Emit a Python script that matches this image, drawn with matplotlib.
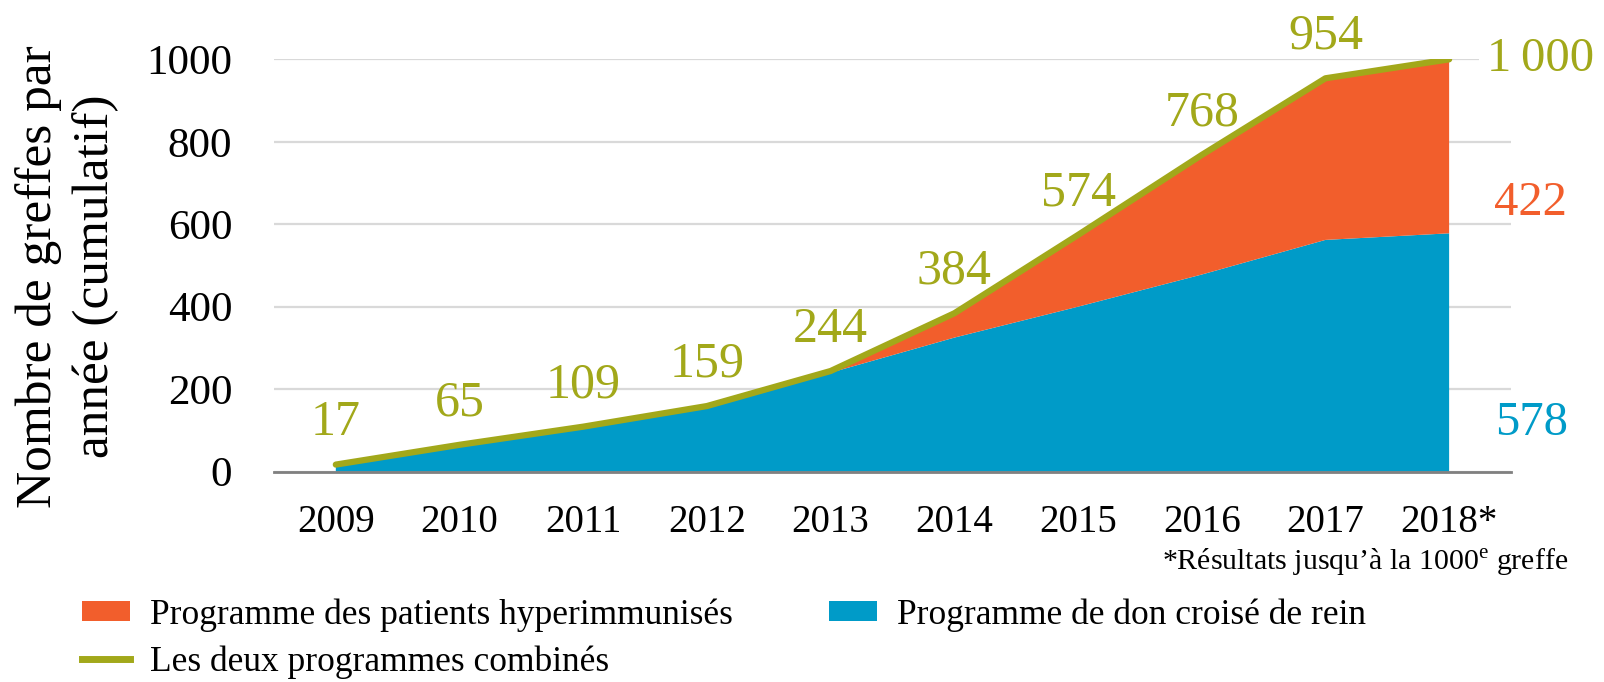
import matplotlib
matplotlib.use("Agg")
import matplotlib.pyplot as plt
from matplotlib.patches import Patch
from matplotlib.lines import Line2D

plt.rcParams['font.family'] = ['Liberation Serif', 'DejaVu Serif']
plt.rcParams['mathtext.fontset'] = 'custom'
plt.rcParams['mathtext.rm'] = 'Liberation Serif'

years = [2009, 2010, 2011, 2012, 2013, 2014, 2015, 2016, 2017, 2018]
year_labels = ["2009", "2010", "2011", "2012", "2013", "2014", "2015", "2016", "2017", "2018*"]
croise = [17, 63, 105, 154, 240, 325, 400, 478, 562, 578]
hyper = [0, 2, 4, 5, 4, 59, 174, 290, 392, 422]
combined = [17, 65, 109, 159, 244, 384, 574, 768, 954, 1000]
combined_labels = ["17", "65", "109", "159", "244", "384", "574", "768", "954"]
y_ticks = [0, 200, 400, 600, 800, 1000]

BLUE = "#009BC8"
ORANGE = "#F25E2C"
OLIVE = "#A2A81A"

fig = plt.figure(figsize=(16.04, 6.82), dpi=100)
ax = fig.add_axes([0.1708, 0.3085, 0.7712, 0.6045])

ax.stackplot(years, croise, hyper, colors=[BLUE, ORANGE], linewidth=0, zorder=2)
ax.plot(years, combined, color=OLIVE, lw=4.5, solid_capstyle='round', zorder=3)

ax.set_xlim(2008.5, 2018.5)
ax.set_ylim(0, 1000)
ax.set_yticks(y_ticks)
ax.set_yticklabels([str(v) for v in y_ticks], fontsize=31)
ax.set_xticks(years)
ax.set_xticklabels(year_labels, fontsize=28)
ax.tick_params(axis='both', length=0)
ax.tick_params(axis='y', pad=30)
ax.tick_params(axis='x', pad=23)
ax.grid(axis='y', color='#D9D9D9', lw=1.6, zorder=0)
ax.set_axisbelow(True)
for s in ['top', 'right', 'left']:
    ax.spines[s].set_visible(False)
ax.spines['bottom'].set_color('#808080')
ax.spines['bottom'].set_linewidth(2)
ax.spines['bottom'].set_zorder(4)

for x, y, lab in zip(years[:-1], combined[:-1], combined_labels):
    ax.annotate(lab, (x, y), xytext=(0, 30), textcoords='offset points',
                ha='center', va='center', fontsize=36, color=OLIVE,
                annotation_clip=False, zorder=5)

ax.text(2018.31, combined[-1], "1\u2009000", fontsize=35, color=OLIVE, ha='left', va='center',
        clip_on=False, zorder=5,
        bbox=dict(facecolor='white', edgecolor='none', pad=6))
ax.text(2018.36, 651, str(hyper[-1]), fontsize=35, color=ORANGE, ha='left', va='center', clip_on=False)
ax.text(2018.37, 118, str(croise[-1]), fontsize=35, color=BLUE, ha='left', va='center', clip_on=False)

fig.text(0.042, 0.595, "Nombre de greffes par\nannée (cumulatif)", rotation=90,
         ha='center', va='center', fontsize=37, linespacing=1.3)

fig.text(1568 / 1604, 1 - 563 / 682, "*Résultats jusqu\u2019à la 1000$^{\\mathrm{e}}$ greffe",
         ha='right', va='center', fontsize=21.5)

handles = [Patch(facecolor=ORANGE, edgecolor='none'),
           Line2D([0], [0], color=OLIVE, lw=5),
           Patch(facecolor=BLUE, edgecolor='none')]
labels = ["Programme des patients hyperimmunisés", "Les deux programmes combinés",
          "Programme de don croisé de rein"]
fig.legend(handles, labels, ncol=2, loc='upper left', bbox_to_anchor=(0.051, 0.123),
           frameon=False, fontsize=25.5, handlelength=1.36, handleheight=0.5,
           handletextpad=0.57, columnspacing=2.7, labelspacing=0.38, borderpad=0,
           borderaxespad=0)

fig.savefig("out.png", dpi=100)
